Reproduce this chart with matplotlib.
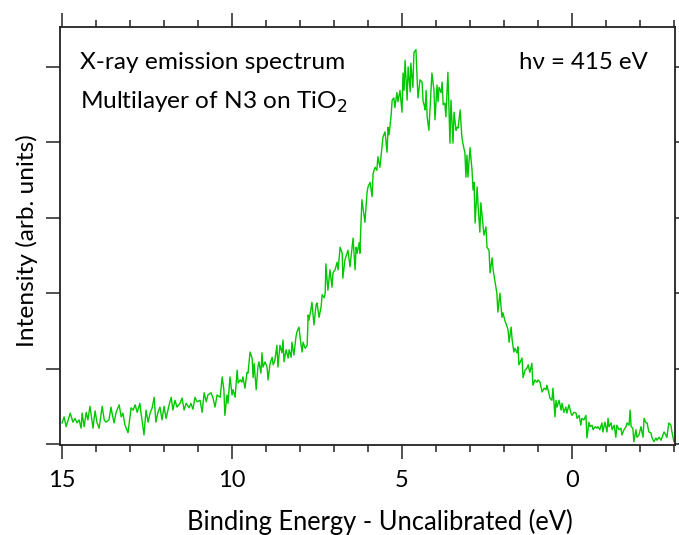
import matplotlib
matplotlib.use("Agg")
import matplotlib.pyplot as plt
from matplotlib.ticker import MultipleLocator, NullFormatter

plt.rcParams['font.family'] = ['Lato', 'DejaVu Sans']

energy = [
    15.00, 14.94, 14.88, 14.82, 14.76, 14.68, 14.62, 14.56, 14.50, 14.44, 14.41, 14.35, 14.29, 14.24,
    14.18, 14.15, 14.09, 14.03, 13.97, 13.91, 13.82, 13.76, 13.71, 13.62, 13.56, 13.53, 13.47, 13.41,
    13.32, 13.26, 13.21, 13.15, 13.06, 12.97, 12.91, 12.85, 12.79, 12.71, 12.68, 12.59, 12.53, 12.47,
    12.41, 12.35, 12.29, 12.24, 12.18, 12.12, 12.06, 12.00, 11.94, 11.85, 11.79, 11.74, 11.68, 11.62,
    11.53, 11.47, 11.41, 11.35, 11.26, 11.21, 11.15, 11.09, 11.03, 10.94, 10.88, 10.82, 10.76, 10.71,
    10.62, 10.56, 10.50, 10.44, 10.35, 10.29, 10.24, 10.21, 10.15, 10.12, 10.06, 10.00, 9.97, 9.91,
    9.85, 9.82, 9.76, 9.71, 9.68, 9.62, 9.56, 9.53, 9.47, 9.41, 9.38, 9.35, 9.29, 9.24, 9.21, 9.15,
    9.12, 9.09, 9.03, 8.97, 8.94, 8.88, 8.82, 8.79, 8.74, 8.68, 8.65, 8.59, 8.53, 8.50, 8.47, 8.41,
    8.35, 8.32, 8.26, 8.24, 8.18, 8.12, 8.09, 8.03, 8.00, 7.94, 7.91, 7.85, 7.79, 7.76, 7.74, 7.68,
    7.65, 7.59, 7.53, 7.50, 7.44, 7.38, 7.35, 7.29, 7.26, 7.24, 7.18, 7.12, 7.06, 7.03, 6.97, 6.91,
    6.88, 6.82, 6.76, 6.74, 6.68, 6.62, 6.59, 6.53, 6.47, 6.44, 6.38, 6.35, 6.32, 6.26, 6.24, 6.18,
    6.15, 6.09, 6.03, 6.00, 5.94, 5.88, 5.85, 5.79, 5.74, 5.71, 5.65, 5.59, 5.56, 5.50, 5.44, 5.41,
    5.38, 5.32, 5.29, 5.24, 5.21, 5.15, 5.12, 5.06, 5.00, 4.97, 4.94, 4.91, 4.85, 4.82, 4.76, 4.74,
    4.68, 4.65, 4.59, 4.56, 4.53, 4.47, 4.41, 4.38, 4.35, 4.32, 4.29, 4.26, 4.21, 4.15, 4.12, 4.06,
    4.03, 3.97, 3.94, 3.91, 3.85, 3.82, 3.79, 3.74, 3.71, 3.65, 3.62, 3.59, 3.56, 3.50, 3.47, 3.41,
    3.38, 3.35, 3.29, 3.24, 3.21, 3.15, 3.12, 3.09, 3.06, 3.00, 2.94, 2.91, 2.88, 2.85, 2.79, 2.76,
    2.71, 2.68, 2.65, 2.59, 2.53, 2.50, 2.44, 2.41, 2.35, 2.32, 2.26, 2.21, 2.18, 2.12, 2.06, 2.03,
    1.97, 1.91, 1.88, 1.85, 1.79, 1.76, 1.71, 1.68, 1.62, 1.59, 1.56, 1.50, 1.47, 1.44, 1.38, 1.32,
    1.29, 1.24, 1.18, 1.15, 1.09, 1.03, 1.00, 0.94, 0.88, 0.82, 0.76, 0.74, 0.68, 0.65, 0.59, 0.56,
    0.50, 0.47, 0.44, 0.38, 0.32, 0.29, 0.24, 0.18, 0.15, 0.09, 0.03, 0.00, -0.06, -0.12, -0.15, -0.21,
    -0.26, -0.29, -0.35, -0.41, -0.44, -0.50, -0.53, -0.59, -0.62, -0.68, -0.74, -0.76, -0.82, -0.88,
    -0.91, -0.97, -1.03, -1.06, -1.09, -1.15, -1.18, -1.24, -1.29, -1.32, -1.38, -1.44, -1.47, -1.53,
    -1.59, -1.62, -1.68, -1.71, -1.74, -1.79, -1.82, -1.88, -1.91, -1.97, -2.03, -2.09, -2.12, -2.18,
    -2.21, -2.26, -2.32, -2.35, -2.41, -2.47, -2.50, -2.56, -2.62, -2.65, -2.71, -2.76, -2.79, -2.85,
    -2.91, -2.94, -3.00,
]

intensity = [
    0.28, 0.36, 0.23, 0.32, 0.41, 0.29, 0.34, 0.28, 0.32, 0.21, 0.41, 0.23, 0.42, 0.32,
    0.50, 0.41, 0.21, 0.44, 0.28, 0.21, 0.50, 0.32, 0.29, 0.32, 0.49, 0.41, 0.28, 0.42,
    0.52, 0.36, 0.41, 0.25, 0.15, 0.48, 0.45, 0.52, 0.42, 0.54, 0.42, 0.12, 0.45, 0.29,
    0.41, 0.48, 0.62, 0.29, 0.42, 0.49, 0.32, 0.50, 0.34, 0.52, 0.62, 0.45, 0.58, 0.49,
    0.54, 0.61, 0.45, 0.54, 0.48, 0.54, 0.46, 0.62, 0.56, 0.58, 0.42, 0.68, 0.56, 0.65,
    0.68, 0.61, 0.49, 0.65, 0.62, 0.89, 0.72, 0.38, 0.65, 0.54, 0.89, 0.65, 0.72, 0.62,
    0.98, 0.81, 0.85, 0.82, 0.89, 0.74, 0.95, 0.94, 1.22, 1.14, 0.88, 1.07, 0.72, 1.02, 1.09, 0.94,
    1.21, 1.02, 1.09, 1.02, 0.85, 1.07, 1.15, 1.05, 1.11, 1.31, 1.02, 1.31, 1.21, 1.38, 1.09, 1.25,
    1.14, 1.25, 1.15, 1.35, 1.18, 1.42, 1.49, 1.55, 1.42, 1.22, 1.35, 1.27, 1.31, 1.71, 1.64, 1.78,
    1.88, 1.58, 1.84, 1.87, 1.68, 1.82, 1.98, 1.94, 2.00, 2.39, 2.04, 2.31, 2.08, 2.27, 2.31, 2.41,
    2.31, 2.61, 2.53, 2.20, 2.44, 2.53, 2.57, 2.35, 2.61, 2.73, 2.31, 2.61, 2.53, 2.67, 2.53, 3.24,
    3.14, 2.94, 3.33, 3.41, 3.47, 3.28, 3.59, 3.67, 3.63, 3.81, 3.67, 3.94, 4.07, 4.14, 3.87, 4.20,
    4.10, 4.36, 4.56, 4.59, 4.46, 4.66, 4.54, 4.69, 4.40, 4.92, 4.69, 5.09, 4.56, 5.00, 4.67, 5.05,
    4.73, 5.19, 5.23, 4.89, 4.59, 4.83, 4.80, 4.54, 4.50, 4.43, 4.69, 4.34, 4.16, 4.66, 4.92, 4.69,
    4.30, 4.76, 4.54, 4.73, 4.66, 4.80, 4.50, 4.52, 4.34, 4.93, 4.47, 3.99, 4.56, 3.99, 4.40, 4.16,
    4.20, 4.19, 4.43, 4.07, 3.99, 3.86, 3.54, 3.83, 3.54, 3.93, 3.63, 3.37, 3.47, 2.93, 3.41, 3.14,
    2.81, 3.20, 3.06, 2.77, 2.88, 2.61, 2.57, 2.27, 2.47, 2.31, 2.14, 2.00, 1.75, 2.00, 1.68, 1.74,
    1.63, 1.56, 1.51, 1.35, 1.55, 1.38, 1.22, 1.27, 1.21, 1.29, 1.05, 1.11, 1.14, 0.88, 0.98, 1.01,
    1.05, 0.95, 1.07, 0.78, 0.85, 0.82, 0.85, 0.82, 0.69, 0.74, 0.72, 0.78, 0.68, 0.61, 0.58, 0.74,
    0.36, 0.58, 0.49, 0.58, 0.45, 0.54, 0.42, 0.49, 0.41, 0.52, 0.41, 0.38, 0.42, 0.41, 0.34, 0.38,
    0.25, 0.34, 0.32, 0.38, 0.08, 0.29, 0.23, 0.25, 0.19, 0.23, 0.21, 0.23, 0.19, 0.28,
    0.16, 0.29, 0.16, 0.34, 0.23, 0.28, 0.19, 0.25, 0.09, 0.25, 0.19, 0.21, 0.12, 0.19,
    0.23, 0.28, 0.25, 0.45, 0.23, 0.21, 0.03, 0.19, 0.09, 0.12, 0.23, 0.09, 0.34, 0.28,
    0.28, 0.16, 0.15, 0.09, 0.03, 0.08, 0.05, 0.09, 0.05, 0.09, 0.16, 0.12, 0.09, 0.28,
    0.25, 0.16, 0.03,
]

title_lines = ["X-ray emission spectrum", "Multilayer of N3 on TiO$_2$"]
energy_label = "h\u03bd = 415 eV"
xlabel = "Binding Energy - Uncalibrated (eV)"
ylabel = "Intensity (arb. units)"
xticks = [15, 10, 5, 0]

fig = plt.figure(figsize=(6.79, 5.35), dpi=100)
ax = fig.add_axes([0.0884, 0.1682, 0.9057, 0.7813])

ax.plot(energy, intensity, color='#00c800', lw=1.0)

ax.set_xlim(15.06, -3.03)
ax.set_ylim(-0.013, 5.53)
ax.set_xticks(xticks)
ax.set_xticklabels([str(t) for t in xticks])
ax.xaxis.set_minor_locator(MultipleLocator(1))
ax.set_yticks([0, 1, 2, 3, 4, 5])
ax.yaxis.set_major_formatter(NullFormatter())

for s in ax.spines.values():
    s.set_linewidth(1.3)
    s.set_color('#222222')

ax.tick_params(axis='x', which='major', direction='out', length=10, width=1.1,
               top=True, labeltop=False, labelsize=17, pad=8, color='#222222')
ax.tick_params(axis='x', which='minor', direction='out', length=5, width=1.1,
               top=True, color='#222222')
ax.tick_params(axis='y', which='major', direction='out', length=10, width=1.1,
               right=True, labelleft=False, color='#222222')

ax.set_xlabel(xlabel, fontsize=18.4)
ax.xaxis.set_label_coords(0.52, -0.153)
ax.set_ylabel(ylabel, fontsize=17.6)
ax.yaxis.set_label_coords(-0.036, 0.49)

ax.text(0.032, 0.915, title_lines[0], transform=ax.transAxes, fontsize=17.6,
        ha='left', va='center')
ax.text(0.032, 0.82, title_lines[1], transform=ax.transAxes, fontsize=17.6,
        ha='left', va='center')
ax.text(0.956, 0.915, energy_label, transform=ax.transAxes, fontsize=17.3,
        ha='right', va='center')

fig.savefig("out.png", dpi=100)
